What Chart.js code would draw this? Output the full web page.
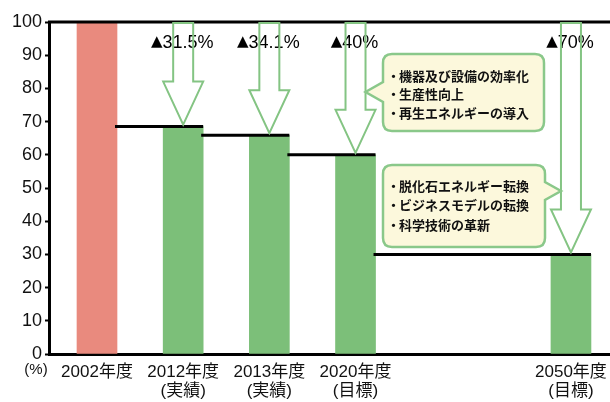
<!DOCTYPE html>
<html>
<head>
<meta charset="utf-8">
<script src="https://cdn.jsdelivr.net/npm/chart.js@4"></script>
<style>
  html, body { margin: 0; padding: 0; background: #fff; }
  #wrap { width: 610px; height: 402px; position: relative; }
</style>
</head>
<body>
<div id="wrap"><canvas id="GhgChart"></canvas></div>
<script>
// data
const years = ['2002年度', '2012年度', '2013年度', '2020年度', '2050年度'];
const notes = ['', '(実績)', '(実績)', '(目標)', '(目標)'];
const values = [100, 68.5, 65.9, 60, 30];
const cuts = ['', '31.5%', '34.1%', '40%', '70%'];
// schematic spacing on the axis (gap between 2020 and 2050)
const slots = [0, 1, 2, 3, 5.5];
const yTicks = [0, 10, 20, 30, 40, 50, 60, 70, 80, 90, 100];

const box1 = ['機器及び設備の効率化', '生産性向上', '再生エネルギーの導入'];
const box2 = ['脱化石エネルギー転換', 'ビジネスモデルの転換', '科学技術の革新'];

const RED = '#e98a7e';
const GREEN = '#7cbf79';
const ARROW = '#84c483';
const FONT = '"Liberation Sans", "Noto Sans CJK JP", sans-serif';

function roundBox(ctx, x1, y1, x2, y2, r, tip, side) {
  ctx.beginPath();
  ctx.moveTo(x1 + r, y1);
  ctx.lineTo(x2 - r, y1);
  ctx.quadraticCurveTo(x2, y1, x2, y1 + r);
  if (side === 'right') {
    ctx.lineTo(x2, tip.y0);
    ctx.lineTo(tip.x, tip.y);
    ctx.lineTo(x2, tip.y1);
  }
  ctx.lineTo(x2, y2 - r);
  ctx.quadraticCurveTo(x2, y2, x2 - r, y2);
  ctx.lineTo(x1 + r, y2);
  ctx.quadraticCurveTo(x1, y2, x1, y2 - r);
  if (side === 'left') {
    ctx.lineTo(x1, tip.y1);
    ctx.lineTo(tip.x, tip.y);
    ctx.lineTo(x1, tip.y0);
  }
  ctx.lineTo(x1, y1 + r);
  ctx.quadraticCurveTo(x1, y1, x1 + r, y1);
  ctx.closePath();
  ctx.fillStyle = '#fcf8dc';
  ctx.fill();
  ctx.strokeStyle = '#8ac88a';
  ctx.lineWidth = 2.5;
  ctx.stroke();
}

function boxText(ctx, lines, x, ys) {
  ctx.fillStyle = '#111';
  ctx.font = 'bold 13px "Noto Sans CJK JP", sans-serif';
  ctx.textAlign = 'left';
  ctx.textBaseline = 'middle';
  lines.forEach((t, i) => {
    ctx.fillText('・', x - 12, ys[i]);
    ctx.fillText(t, x, ys[i]);
  });
}

const extras = {
  id: 'extras',
  afterDatasetsDraw(chart) {
    const ctx = chart.ctx;
    const area = chart.chartArea;
    const y = chart.scales.y;
    const bars = chart.getDatasetMeta(0).data;
    ctx.save();

    // frame line along the 100 level
    ctx.strokeStyle = '#000';
    ctx.lineWidth = 3;
    ctx.beginPath();
    ctx.moveTo(area.left - 1, y.getPixelForValue(100));
    ctx.lineTo(area.right, y.getPixelForValue(100));
    ctx.stroke();

    // step lines: from right edge of previous bar to right edge of this bar
    for (let i = 1; i < bars.length; i++) {
      const yy = y.getPixelForValue(values[i]);
      ctx.beginPath();
      ctx.moveTo(bars[i - 1].x + bars[i - 1].width / 2 - 2, yy);
      ctx.lineTo(bars[i].x + bars[i].width / 2, yy);
      ctx.stroke();
    }

    // reduction labels: black triangle + percentage
    ctx.fillStyle = '#000';
    ctx.textAlign = 'left';
    ctx.textBaseline = 'middle';
    const triFont = 'bold 15px "DejaVu Sans", sans-serif';
    const numFont = '18px ' + FONT;
    for (let i = 1; i < bars.length; i++) {
      ctx.font = triFont;
      const tw = ctx.measureText('▲').width;
      ctx.font = numFont;
      const nw = ctx.measureText(cuts[i]).width;
      const x0 = bars[i].x - (tw + nw) / 2 - 1;
      ctx.font = triFont;
      ctx.fillText('▲', x0, area.top + 20);
      ctx.font = numFont;
      ctx.fillText(cuts[i], x0 + tw, area.top + 21);
    }

    // hollow arrows
    ctx.strokeStyle = ARROW;
    ctx.lineWidth = 2;
    for (let i = 1; i < bars.length; i++) {
      const cx = bars[i].x;
      const tip = y.getPixelForValue(values[i]) - 2;
      const hy = tip - 43;
      ctx.beginPath();
      ctx.moveTo(cx - 10, area.top + 1);
      ctx.lineTo(cx + 10, area.top + 1);
      ctx.lineTo(cx + 10, hy);
      ctx.lineTo(cx + 20, hy);
      ctx.lineTo(cx, tip);
      ctx.lineTo(cx - 20, hy);
      ctx.lineTo(cx - 10, hy);
      ctx.closePath();
      ctx.stroke();
    }

    // callouts
    roundBox(ctx, 383, 54, 544, 131, 9, { x: bars[3].x + 10, y: 92, y0: 82, y1: 102 }, 'left');
    boxText(ctx, box1, 399, [76, 94, 113]);
    roundBox(ctx, 383, 165, 545, 247, 9, { x: bars[4].x - 10, y: 191, y0: 182, y1: 200 }, 'right');
    boxText(ctx, box2, 399, [186, 205, 225]);

    // unit
    ctx.fillStyle = '#111';
    ctx.font = '15px ' + FONT;
    ctx.textAlign = 'center';
    ctx.fillText('(%)', 36, 370);
    ctx.restore();
  }
};

new Chart(document.getElementById('GhgChart'), {
  type: 'bar',
  data: {
    datasets: [{
      data: slots.map((s, i) => ({ x: s, y: values[i] })),
      backgroundColor: values.map((v, i) => i === 0 ? RED : GREEN),
      barThickness: 40,
      borderWidth: 0
    }]
  },
  options: {
    responsive: true,
    maintainAspectRatio: false,
    animation: false,
    layout: { padding: { top: 22, right: 0, left: 0, bottom: 0 } },
    plugins: {
      legend: { display: false },
      tooltip: { enabled: false }
    },
    scales: {
      x: {
        type: 'linear',
        offset: false,
        min: -0.557,
        max: 5.953,
        afterBuildTicks: s => { s.ticks = slots.map(v => ({ value: v })); },
        afterFit: s => { s.height = 48; },
        grid: { display: false },
        border: { color: '#000', width: 3 },
        ticks: {
          padding: 1,
          color: '#111',
          font: { family: FONT, size: 17, lineHeight: 1.1 },
          maxRotation: 0,
          autoSkip: false,
          callback: (v, i) => notes[i] ? [years[i], notes[i]] : years[i]
        }
      },
      y: {
        min: 0,
        max: 100,
        afterBuildTicks: s => { s.ticks = yTicks.map(v => ({ value: v })); },
        afterFit: s => { s.width = 49; },
        border: { color: '#000', width: 3 },
        grid: {
          drawOnChartArea: false,
          tickColor: '#000',
          tickLength: 4,
          tickWidth: 2
        },
        ticks: {
          padding: 3,
          color: '#111',
          font: { family: FONT, size: 18 }
        }
      }
    }
  },
  plugins: [extras]
});
</script>
</body>
</html>
